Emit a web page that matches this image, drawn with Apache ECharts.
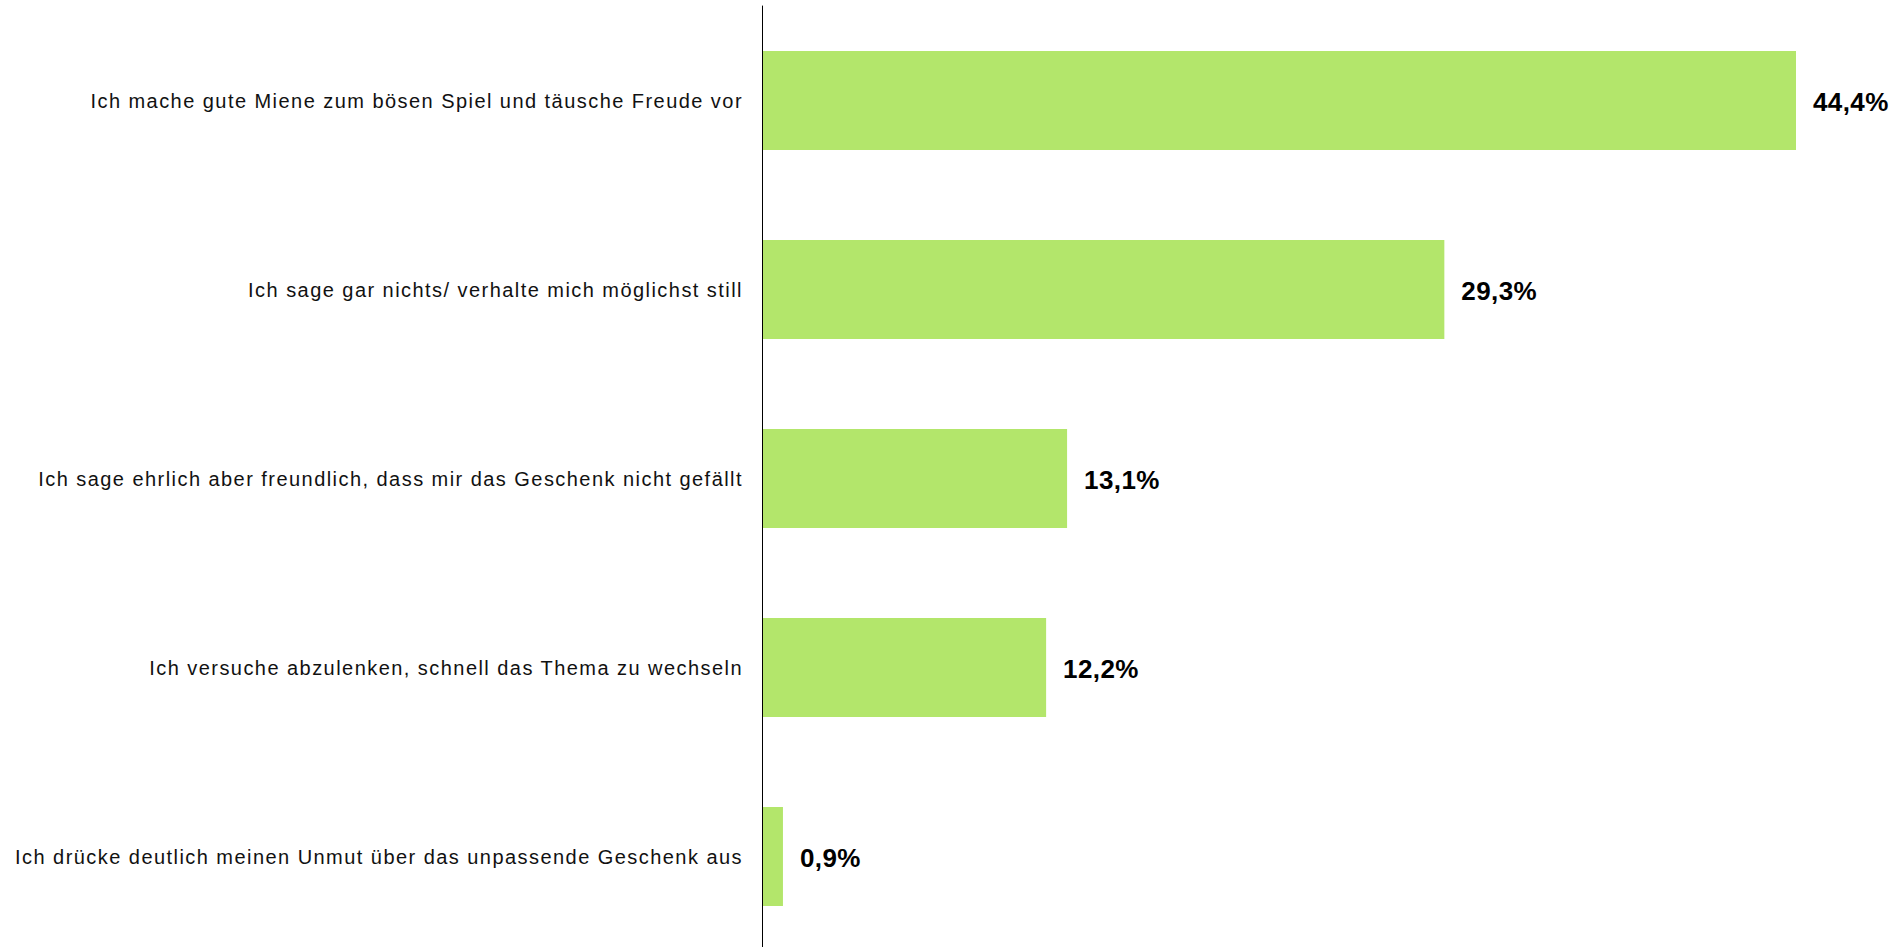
<!DOCTYPE html>
<html><head><meta charset="utf-8">
<script src="https://cdn.jsdelivr.net/npm/echarts@6/dist/echarts.min.js"></script>
<style>
html,body{margin:0;padding:0;background:#fff}
#c{width:1900px;height:947px}
#c text{letter-spacing:1.45px}
#c text[style*="bold"], #c text[font-weight="bold"]{letter-spacing:0.4px}
</style>
</head><body><div id="c"></div>
<script>
const categories = [
  "Ich mache gute Miene zum bösen Spiel und täusche Freude vor",
  "Ich sage gar nichts/ verhalte mich möglichst still",
  "Ich sage ehrlich aber freundlich, dass mir das Geschenk nicht gefällt",
  "Ich versuche abzulenken, schnell das Thema zu wechseln",
  "Ich drücke deutlich meinen Unmut über das unpassende Geschenk aus"
];
const values = [44.4, 29.3, 13.1, 12.2, 0.9];

const chart = echarts.init(document.getElementById('c'), null, {renderer: 'svg'});
chart.setOption({
  animation: false,
  grid: {left: 762, top: 6, width: 1034, height: 945, outerBoundsMode: 'none', containLabel: false},
  xAxis: {
    type: 'value', min: 0, max: function (v) { return v.max; },
    show: false
  },
  yAxis: {
    type: 'category', data: categories, inverse: true, z: 5,
    axisLine: {show: true, lineStyle: {color: '#000', width: 1}},
    axisTick: {show: false},
    axisLabel: {
      color: '#111', fontSize: 20, fontFamily: 'Liberation Sans, Arial, sans-serif',
      margin: 19, padding: [8, 0, 0, 0]
    }
  },
  series: [{
    type: 'bar', data: values, barWidth: 99,
    itemStyle: {color: '#b3e66b'},
    label: {
      show: true, position: 'right', distance: 17, offset: [0, 1],
      color: '#000', fontWeight: 'bold', fontSize: 26,
      fontFamily: 'Liberation Sans, Arial, sans-serif',
      formatter: function (p) { return p.value.toFixed(1).replace('.', ',') + '%'; }
    }
  }]
});
</script></body></html>
